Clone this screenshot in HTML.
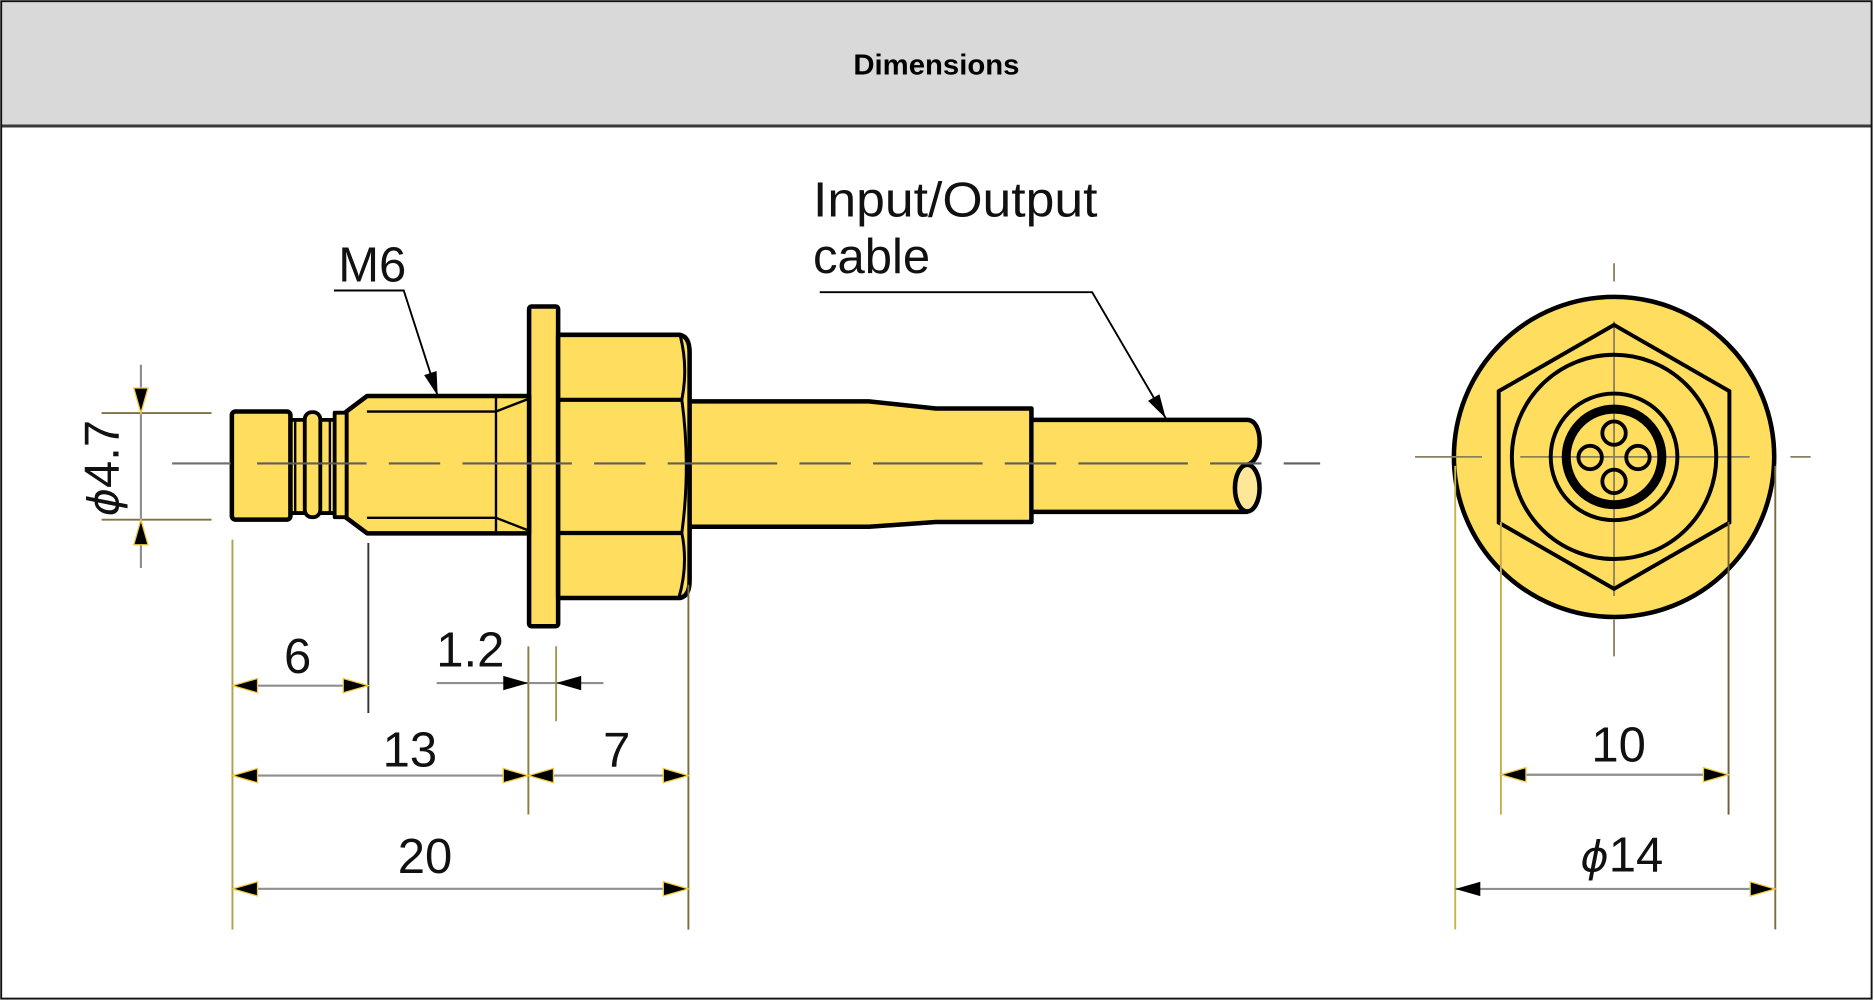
<!DOCTYPE html>
<html><head><meta charset="utf-8"><style>
html,body{margin:0;padding:0;background:#fff;}
svg{display:block}
</style></head><body>
<svg width="1874" height="1001" viewBox="0 0 1568 838" preserveAspectRatio="none" xmlns="http://www.w3.org/2000/svg">
<rect x="0" y="0" width="1568" height="838" fill="#fff"/>
<rect x="1" y="1" width="1565" height="104" fill="#d9d9d9"/>
<line x1="1" y1="105.5" x2="1566" y2="105.5" stroke="#3a3a3a" stroke-width="2.5"/>
<rect x="1" y="1" width="1565" height="835" fill="none" stroke="#111" stroke-width="1.6"/>
<text x="783.5" y="62.5" text-anchor="middle" font-family="Liberation Sans, sans-serif" font-weight="bold" font-size="24" textLength="139" lengthAdjust="spacingAndGlyphs" fill="#000">Dimensions</text>

<g stroke="#000" stroke-linejoin="round" fill="#FEDD5F">
  <path d="M560,336 H727 L783,342 H863 V437 H783 L727,441 H560 Z" stroke-width="3.8"/>
  <path d="M865,351.5 H1044 C1051,352 1054,361 1054,370 C1054,379 1050,387 1044,389 L1044,428 H865 Z" stroke="none"/>
  <path d="M863,351.5 H1044 C1051,352 1054,361 1054,370 C1054,379 1050,387 1044,389" fill="none" stroke-width="3.8"/>
  <path d="M863,428.5 H1044" fill="none" stroke-width="3.8"/>
  <ellipse cx="1043.6" cy="408.6" rx="10.3" ry="19.5" fill="#FFE79A" stroke-width="3.8"/>
  <rect x="442.7" y="256.6" width="24.3" height="267.7" rx="2" stroke-width="3.8"/>
  <path d="M467,280.3 H569 Q577,282 577,295 V486 Q577,499 569,500.6 H467 Z" stroke-width="3.8"/>
  <path d="M467,334.7 H571 M467,446.2 H571" fill="none" stroke-width="3.5"/>
  <path d="M569,280.3 Q576,307 570.5,334.7 M570.5,334.7 Q578,390 570.5,446.2 M570.5,446.2 Q576,473 568,500.6" fill="none" stroke-width="2.5"/>
  <path d="M289.8,344.5 L307.2,331.5 H442.7 V446.5 H307.2 L289.8,433.5 Z" stroke-width="3.8"/>
  <path d="M307,344.5 H415 M307,433.5 H415 M415,331.5 V446.5 M415,344.5 L442,334 M415,433.5 L442,444" fill="none" stroke-width="2"/>
  <rect x="243" y="351.5" width="47" height="78" stroke-width="3.2"/>
  <path d="M247,351.5 V429.5 M276,351.5 V429.5" fill="none" stroke-width="2"/>
  <rect x="255" y="345" width="13" height="88" rx="6" stroke-width="3.2"/>
  <rect x="280" y="345.5" width="10" height="87.5" stroke-width="3.2"/>
  <rect x="194" y="344.5" width="49" height="90.5" rx="3" stroke-width="3.8"/>
</g>

<line x1="144" y1="388" x2="193" y2="388" stroke="#6e6e6e" stroke-width="1.8"/>
<line x1="215.1" y1="388" x2="1104.6" y2="388" stroke="#5e5e5e" stroke-width="1.8" stroke-dasharray="91.6 18.6 43 18.6"/>

<circle cx="1350.5" cy="382.5" r="134" fill="#FEDD5F" stroke="#000" stroke-width="3.8"/>
<g stroke="#8a8060" stroke-width="1.5" fill="none">
  <path d="M1184,382.5 H1240 M1272,382.5 H1464 M1498,382.5 H1515"/>
  <path d="M1350.5,220.4 V235.7 M1350.5,269 V499 M1350.5,518.8 V549.5"/>
</g>
<g stroke="#000" fill="none">
  <polygon points="1350.5,272 1447,327.5 1447,437.5 1350.5,493 1254,437.5 1254,327.5" stroke-width="3.3"/>
  <circle cx="1350.5" cy="382.5" r="85.5" stroke-width="3.3"/>
  <circle cx="1350.5" cy="382.5" r="53" stroke-width="3.3"/>
  <circle cx="1350.5" cy="382.5" r="40" stroke-width="7.5"/>
  <circle cx="1350.5" cy="362.6" r="9.8" stroke-width="3.2"/>
  <circle cx="1330.5" cy="383" r="9.8" stroke-width="3.2"/>
  <circle cx="1370.5" cy="383" r="9.8" stroke-width="3.2"/>
  <circle cx="1350.5" cy="403" r="9.8" stroke-width="3.2"/>
</g>

<g stroke-width="1.6" fill="none">
  <path d="M85,345.8 H177 M85,435.1 H177" stroke="#7d7240"/>
  <path d="M194.5,451.8 V778.2" stroke="#b4a048"/>
  <path d="M308.2,454.6 V596.9" stroke="#333"/>
  <path d="M442.1,541.1 V681.9" stroke="#8c7c40"/>
  <path d="M465.3,541 V603.8" stroke="#a8964c"/>
  <path d="M576,489.5 V778.2" stroke="#7d6e40"/>
  <path d="M1217.6,390 V778" stroke="#c8b448"/>
  <path d="M1255.8,437 V682" stroke="#c4ae48"/>
  <path d="M1446.3,437 V682" stroke="#6e6034"/>
  <path d="M1485.4,390 V778" stroke="#7d6e40"/>
</g>

<g stroke="#8e8e8e" stroke-width="1.8" fill="none">
  <path d="M117.9,305.4 V475.5"/>
  <path d="M194.5,574 H308.2"/>
  <path d="M365.4,571.8 H504.9"/>
  <path d="M194.5,649.3 H576"/>
  <path d="M194.5,744.1 H576"/>
  <path d="M1255.8,648.6 H1446.3"/>
  <path d="M1217.6,744.2 H1485.4"/>
</g>
<g stroke="#000" stroke-width="1.6" fill="none">
  <path d="M279.4,243.2 H337.8 L366.2,331.3"/>
  <path d="M685.9,244.6 H913.8 L975.4,350.1"/>
</g>

<g fill="#000" stroke="#f0cc40" stroke-width="1.1" stroke-linejoin="miter">
  <polygon points="366.2,331.3 354.9,314.0 365.3,310.6" stroke="none"/>
  <polygon points="975.4,350.1 960.6,335.6 970.1,330.0" stroke="none"/>
  <polygon points="117.9,345.8 111.9,324.8 123.9,324.8"/>
  <polygon points="117.9,435.1 111.9,456.1 123.9,456.1"/>
  <polygon points="194.5,574 215.5,568 215.5,580"/>
  <polygon points="308.2,574 287.2,568 287.2,580"/>
  <polygon points="442.1,571.8 421.1,565.8 421.1,577.8" stroke="none"/>
  <polygon points="465.3,571.8 486.3,565.8 486.3,577.8" stroke="none"/>
  <polygon points="194.5,649.3 215.5,643.3 215.5,655.3"/>
  <polygon points="442.1,649.3 421.1,643.3 421.1,655.3"/>
  <polygon points="442.1,649.3 463.1,643.3 463.1,655.3"/>
  <polygon points="576,649.3 555,643.3 555,655.3"/>
  <polygon points="194.5,744.1 215.5,738.1 215.5,750.1"/>
  <polygon points="576,744.1 555,738.1 555,750.1"/>
  <polygon points="1255.8,648.6 1276.8,642.6 1276.8,654.6"/>
  <polygon points="1446.3,648.6 1425.3,642.6 1425.3,654.6"/>
  <polygon points="1217.6,744.2 1238.6,738.2 1238.6,750.2" stroke="none"/>
  <polygon points="1485.4,744.2 1464.4,738.2 1464.4,750.2"/>
</g>

<g font-family="Liberation Sans, DejaVu Sans, sans-serif" font-size="41" fill="#111">
  <text x="283" y="235.7">M6</text>
  <text x="680.3" y="181.3" textLength="238" lengthAdjust="spacingAndGlyphs">Input/Output</text>
  <text x="680.3" y="228.7">cable</text>
  <text transform="translate(99,391.9) rotate(-90)" text-anchor="middle"><tspan font-family="DejaVu Sans, sans-serif" font-style="italic" font-size="36">ϕ</tspan>4.7</text>
  <text x="249" y="563.4" text-anchor="middle">6</text>
  <text x="365" y="557.8">1.2</text>
  <text x="343" y="641.5" text-anchor="middle">13</text>
  <text x="516" y="641.5" text-anchor="middle">7</text>
  <text x="355.6" y="730.7" text-anchor="middle">20</text>
  <text x="1354.3" y="637.4" text-anchor="middle">10</text>
  <text x="1357" y="729.4" text-anchor="middle"><tspan font-family="DejaVu Sans, sans-serif" font-style="italic" font-size="36">ϕ</tspan>14</text>
</g>
</svg>
</body></html>
